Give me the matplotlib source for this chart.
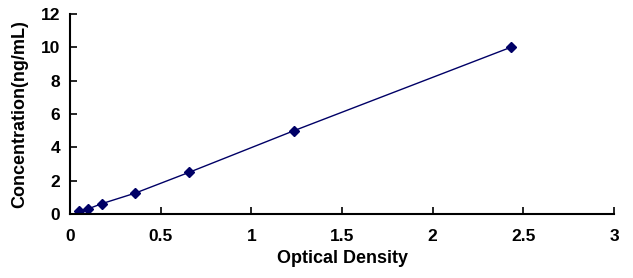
import matplotlib
matplotlib.use('Agg')
import matplotlib.pyplot as plt

# standard curve readings
od = [0.05, 0.10, 0.176, 0.358, 0.656, 1.235, 2.43]
conc = [0.156, 0.312, 0.625, 1.25, 2.5, 5, 10]

plt.rcParams['font.family'] = 'Liberation Sans'
plt.rcParams['font.weight'] = 'bold'

fig = plt.figure(figsize=(6.33, 2.78), dpi=100)
ax = fig.add_axes([0.1106, 0.230, 0.8594, 0.7196])

ax.plot(od, conc, color='#000066', lw=1.0, marker='D', markersize=4.8)

ax.set_xlim(0, 3)
ax.set_ylim(0, 12)
ax.set_xticks([0, 0.5, 1, 1.5, 2, 2.5, 3])
ax.set_xticklabels(['0', '0.5', '1', '1.5', '2', '2.5', '3'], fontweight='bold')
ax.set_yticks(range(0, 13, 2))
ax.set_yticklabels([str(v) for v in range(0, 13, 2)], fontweight='bold')

for s in ['top', 'right']:
    ax.spines[s].set_visible(False)
for s in ['left', 'bottom']:
    ax.spines[s].set_linewidth(1.5)

ax.tick_params(direction='in', length=5, width=1.2, labelsize=12.5)
ax.tick_params(axis='x', pad=11)
ax.tick_params(axis='y', pad=7)
ax.set_xlabel('Optical Density', fontsize=13, fontweight='bold', labelpad=4)
ax.set_ylabel('Concentration(ng/mL)', fontsize=13, fontweight='bold', labelpad=9)

fig.savefig('out.png', dpi=100)
